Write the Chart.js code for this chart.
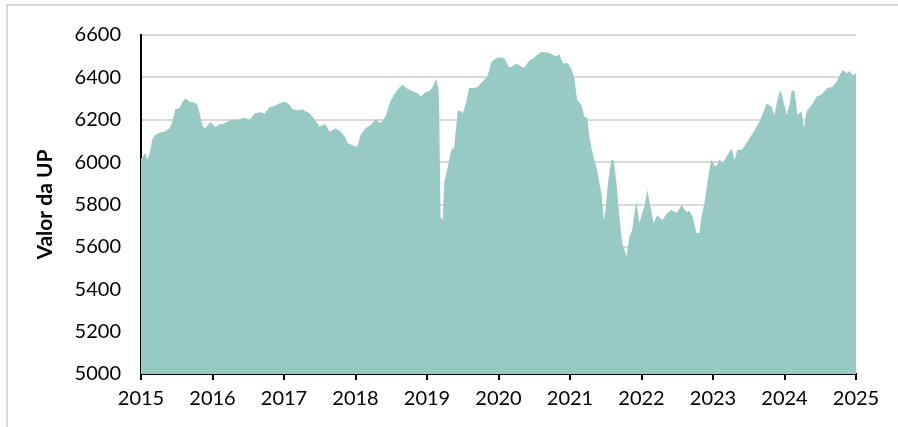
<!DOCTYPE html>
<html>
<head>
<meta charset="utf-8">
<script src="https://cdn.jsdelivr.net/npm/chart.js@4"></script>
<style>
  html, body { margin: 0; padding: 0; background: #fff; overflow: hidden; }
  .frame {
    position: absolute; left: 6px; top: 4px;
    width: 1000px; height: 600px;
    border: 2px solid #d9d9d9;
  }
  .wrap { position: absolute; left: 0; top: 0; width: 898px; height: 427px; }
</style>
</head>
<body>
<div class="frame"></div>
<div class="wrap"><canvas id="upChart" width="898" height="427"></canvas></div>
<script>
// dates as decimal years
const dates = [
  2015.00, 2015.02, 2015.06, 2015.09, 2015.12, 2015.16, 2015.20, 2015.26, 2015.33, 2015.40,
  2015.44, 2015.48, 2015.54, 2015.58, 2015.62, 2015.68, 2015.75, 2015.79, 2015.82, 2015.86,
  2015.90, 2015.97, 2016.04, 2016.10, 2016.14, 2016.21, 2016.28, 2016.35, 2016.45, 2016.52,
  2016.59, 2016.66, 2016.73, 2016.80, 2016.87, 2016.94, 2017.01, 2017.08, 2017.12, 2017.19,
  2017.26, 2017.30, 2017.36, 2017.43, 2017.50, 2017.57, 2017.64, 2017.72, 2017.79, 2017.85,
  2017.89, 2017.96, 2018.00, 2018.03, 2018.07, 2018.14, 2018.21, 2018.28, 2018.35, 2018.42,
  2018.49, 2018.56, 2018.62, 2018.66, 2018.71, 2018.76, 2018.81, 2018.87, 2018.91, 2018.98,
  2019.03, 2019.08, 2019.13, 2019.16, 2019.17, 2019.19, 2019.22, 2019.24, 2019.29, 2019.34,
  2019.38, 2019.43, 2019.47, 2019.50, 2019.55, 2019.59, 2019.65, 2019.71, 2019.78, 2019.85,
  2019.90, 2019.97, 2020.03, 2020.08, 2020.15, 2020.21, 2020.25, 2020.32, 2020.36, 2020.43,
  2020.49, 2020.53, 2020.60, 2020.66, 2020.71, 2020.77, 2020.81, 2020.85, 2020.90, 2020.97,
  2021.02, 2021.06, 2021.10, 2021.16, 2021.20, 2021.24, 2021.27, 2021.31, 2021.34, 2021.38,
  2021.41, 2021.44, 2021.47, 2021.50, 2021.52, 2021.55, 2021.58, 2021.61, 2021.65, 2021.69,
  2021.73, 2021.76, 2021.79, 2021.83, 2021.87, 2021.90, 2021.93, 2021.97, 2022.01, 2022.04,
  2022.08, 2022.13, 2022.17, 2022.22, 2022.29, 2022.36, 2022.42, 2022.49, 2022.56, 2022.63,
  2022.67, 2022.71, 2022.77, 2022.81, 2022.84, 2022.88, 2022.92, 2022.95, 2022.98, 2023.02,
  2023.06, 2023.09, 2023.13, 2023.19, 2023.26, 2023.30, 2023.34, 2023.41, 2023.48, 2023.54,
  2023.58, 2023.65, 2023.69, 2023.75, 2023.82, 2023.86, 2023.90, 2023.94, 2023.97, 2024.03,
  2024.07, 2024.10, 2024.14, 2024.18, 2024.24, 2024.27, 2024.31, 2024.38, 2024.45, 2024.52,
  2024.60, 2024.67, 2024.73, 2024.77, 2024.81, 2024.87, 2024.91, 2024.95, 2025.00
];

const upValues = [
  6020, 6020, 6045, 6010, 6040, 6110, 6128, 6140, 6143, 6160,
  6190, 6250, 6255, 6285, 6300, 6285, 6280, 6270, 6230, 6170,
  6160, 6190, 6165, 6180, 6180, 6190, 6200, 6200, 6210, 6200,
  6230, 6235, 6230, 6260, 6265, 6278, 6285, 6270, 6250, 6245,
  6250, 6240, 6230, 6200, 6167, 6180, 6143, 6160, 6145, 6120,
  6090, 6080, 6073, 6075, 6128, 6160, 6175, 6200, 6185, 6215,
  6290, 6330, 6355, 6365, 6350, 6340, 6335, 6325, 6310, 6330,
  6335, 6355, 6395, 6340, 6260, 5740, 5727, 5900, 5978, 6057,
  6070, 6245, 6240, 6230, 6285, 6350, 6350, 6355, 6380, 6410,
  6473, 6490, 6495, 6490, 6445, 6455, 6465, 6450, 6445, 6480,
  6490, 6505, 6520, 6518, 6515, 6505, 6500, 6510, 6467, 6467,
  6440, 6395, 6293, 6270, 6215, 6210, 6120, 6050, 6010, 5963,
  5900, 5854, 5727, 5780, 5868, 5950, 6010, 6010, 5900, 5742,
  5618, 5590, 5553, 5648, 5680, 5760, 5813, 5712, 5760, 5790,
  5868, 5780, 5712, 5750, 5727, 5760, 5774, 5760, 5797, 5765,
  5770, 5745, 5665, 5665, 5745, 5806, 5900, 5963, 6015, 5980,
  5985, 6015, 5995, 6025, 6065, 6010, 6057, 6060, 6096, 6128,
  6150, 6190, 6222, 6278, 6260, 6222, 6293, 6340, 6310, 6222,
  6270, 6340, 6335, 6222, 6240, 6160, 6240, 6270, 6310, 6320,
  6350, 6355, 6380, 6410, 6435, 6420, 6430, 6410, 6420
];

const yearTicks = [2015, 2016, 2017, 2018, 2019, 2020, 2021, 2022, 2023, 2024, 2025];
const valueTicks = [5000, 5200, 5400, 5600, 5800, 6000, 6200, 6400, 6600];

const fontFamily = "Lato, 'Open Sans', sans-serif";

const ctx = document.getElementById("upChart").getContext("2d");

new Chart(ctx, {
  type: "line",
  data: {
    datasets: [
      {
        data: dates.map((d, i) => ({ x: d, y: upValues[i] })),
        fill: "start",
        backgroundColor: "#96cac3",
        borderWidth: 0,
        pointRadius: 0,
        tension: 0,
      },
    ],
  },
  options: {
    responsive: false,
    animation: false,
    layout: { padding: { left: 0, top: 35, right: 42, bottom: 0 } },
    plugins: {
      legend: { display: false },
      tooltip: { enabled: false },
    },
    scales: {
      x: {
        type: "linear",
        min: yearTicks[0],
        max: yearTicks[yearTicks.length - 1],
        afterBuildTicks: (scale) => {
          scale.ticks = yearTicks.map((v) => ({ value: v }));
        },
        afterFit: (scale) => {
          scale.height = 53;
        },
        ticks: {
          color: "#000",
          font: { family: fontFamily, size: 20 },
          padding: 7,
          maxRotation: 0,
          callback: (v) => String(v),
        },
        grid: {
          drawOnChartArea: false,
          drawTicks: true,
          tickLength: 6,
          color: "#000",
          lineWidth: 2,
        },
        border: { display: true, color: "#000", width: 2 },
      },
      y: {
        min: valueTicks[0],
        max: valueTicks[valueTicks.length - 1],
        afterBuildTicks: (scale) => {
          scale.ticks = valueTicks.map((v) => ({ value: v }));
        },
        afterFit: (scale) => {
          scale.width = 141;
        },
        ticks: {
          color: "#000",
          font: { family: fontFamily, size: 20 },
          padding: 20,
          callback: (v) => String(v),
        },
        grid: {
          color: "#d9d9d9",
          lineWidth: 2,
          drawTicks: false,
        },
        border: { display: true, color: "#000", width: 2 },
        title: {
          display: true,
          text: "Valor da UP",
          color: "#000",
          font: { family: fontFamily, size: 21, weight: "bold" },
          padding: { top: 33, bottom: 0 },
        },
      },
    },
  },
});
</script>
</body>
</html>
